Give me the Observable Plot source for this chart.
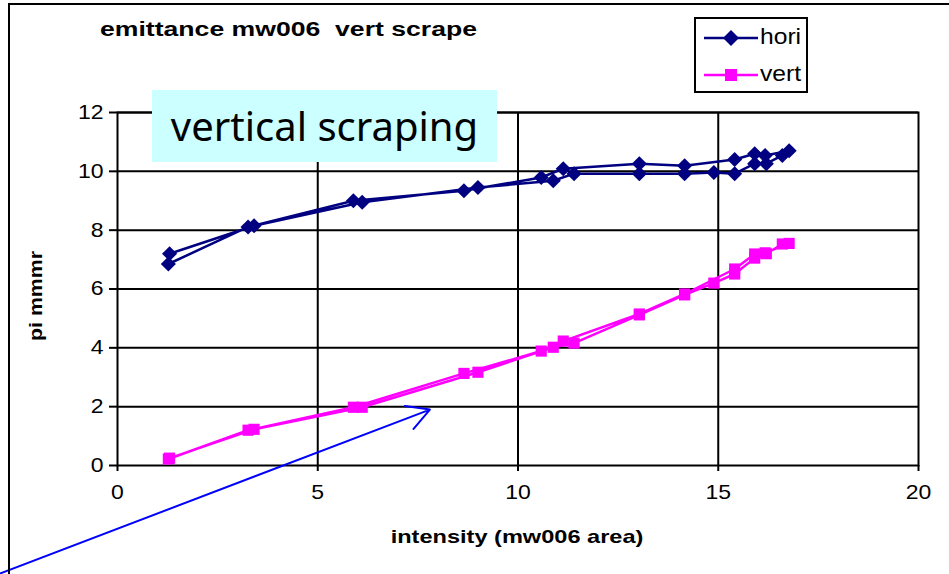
<!DOCTYPE html>
<html>
<head>
<meta charset="utf-8">
<script src="https://cdn.jsdelivr.net/npm/d3@7"></script>
<script src="https://cdn.jsdelivr.net/npm/@observablehq/plot@0.6"></script>
<style>
  html, body { margin: 0; padding: 0; background: #fff; }
  #wrap { position: relative; width: 949px; height: 574px; overflow: hidden; font-family: "Liberation Sans", Arial, sans-serif; }
  #wrap svg.plot { position: absolute; left: 0; top: 0; }
  .abs { position: absolute; white-space: pre; }
</style>
</head>
<body>
<div id="wrap"></div>
<script>
const intensity = [1.27, 3.26, 5.89, 8.65, 10.58, 11.13, 13.03, 14.16, 15.41, 15.91, 16.17, 16.77, 16.60, 16.20, 15.91, 15.41, 14.89, 14.16, 13.03, 11.40, 10.88, 9.00, 6.11, 3.41, 1.30];
const hori      = [6.85, 8.11, 9.00, 9.34, 9.79, 10.09, 10.26, 10.19, 10.40, 10.60, 10.54, 10.70, 10.54, 10.26, 10.26, 9.92, 9.96, 9.92, 9.92, 9.92, 9.68, 9.45, 8.95, 8.15, 7.20];
const vert      = [0.22, 1.20, 1.98, 3.13, 3.89, 4.23, 5.15, 5.83, 6.68, 7.19, 7.23, 7.55, 7.53, 7.20, 7.05, 6.51, 6.20, 5.80, 5.12, 4.16, 4.02, 3.17, 1.98, 1.23, 0.25];
const xTicks = [0, 5, 10, 15, 20];
const yTicks = [0, 2, 4, 6, 8, 10, 12];
const seriesNames = ["hori", "vert"];
const title = "emittance mw006  vert scrape";
const xLabel = "intensity (mw006 area)";
const yLabel = "pi mmmr";
const boxText = "vertical scraping";
// annotation arrow (data coordinates, from start outside the frame to tip)
const arrowX1 = [-2.93], arrowY1 = [-3.67], arrowX2 = [7.8], arrowY2 = [1.9];

const rows = intensity.map((x, i) => ({x, hori: hori[i], vert: vert[i]}));
const arrowData = arrowX1.map((v, i) => ({x1: v, y1: arrowY1[i], x2: arrowX2[i], y2: arrowY2[i]}));

const navy = "#000080", magenta = "#FF00FF";

const chart = Plot.plot({
  width: 949,
  height: 574,
  marginLeft: 117,
  marginRight: 31,
  marginTop: 112,
  marginBottom: 109,
  style: {fontFamily: "Liberation Sans, Arial, sans-serif", fontSize: "20px", color: "#000", background: "transparent", overflow: "visible"},
  x: {domain: [0, 20]},
  y: {domain: [0, 12]},
  marks: [
    Plot.gridX(xTicks.slice(1, -1), {stroke: "#000", strokeOpacity: 1, strokeWidth: 2}),
    Plot.gridY(yTicks.slice(1), {stroke: "#000", strokeOpacity: 1, strokeWidth: 2}),
    Plot.frame({stroke: "#000", strokeWidth: 2}),
    Plot.axisX({ticks: xTicks, tickSize: 6, tickPadding: 13, strokeWidth: 2, label: null, fontSize: 20}),
    Plot.axisY({ticks: yTicks, tickSize: 8, tickPadding: 6, strokeWidth: 2, label: null, fontSize: 20}),
    Plot.line(rows, {x: "x", y: "hori", stroke: navy, strokeWidth: 2.5, curve: "linear"}),
    Plot.dot(rows, {x: "x", y: "hori", symbol: "diamond2", r: 6.8, fill: navy, stroke: "none"}),
    Plot.line(rows, {x: "x", y: "vert", stroke: magenta, strokeWidth: 2.5, curve: "linear"}),
    Plot.dot(rows, {x: "x", y: "vert", symbol: "square", r: 6.3, fill: magenta, stroke: "none"}),
    Plot.arrow(arrowData, {x1: "x1", y1: "y1", x2: "x2", y2: "y2", stroke: "#0000FF", strokeWidth: 2, headLength: 19, headAngle: 58, bend: 0, clip: false})
  ]
});
chart.classList.add("plot");
const wrap = document.getElementById("wrap");
wrap.appendChild(chart);

// stretch tick labels horizontally about their own anchor point (as in the reference rendering)
chart.querySelectorAll('g[aria-label$="tick label"] text').forEach(el => {
  const tr = el.getAttribute("transform");
  if (tr && tr.includes("translate")) el.setAttribute("transform", tr + " scale(1.15,1)");
});

// outer chart-area border (left and top edges visible)
const border = document.createElement("div");
border.className = "abs";
Object.assign(border.style, {left: "8px", top: "3px", width: "1000px", height: "700px", borderLeft: "2px solid #000", borderTop: "2px solid #000", boxSizing: "border-box", pointerEvents: "none"});
wrap.appendChild(border);

function label(text, style) {
  const d = document.createElement("div");
  d.className = "abs";
  d.textContent = text;
  Object.assign(d.style, style);
  wrap.appendChild(d);
  return d;
}

// title
label(title, {left: "100px", top: "18px", fontSize: "20px", fontWeight: "bold", transformOrigin: "0 50%", transform: "scaleX(1.33)"});

// text box
label(boxText, {left: "152px", top: "90px", width: "345px", height: "72px", background: "#CCFFFF", fontFamily: "'Noto Sans', sans-serif", fontSize: "40px", lineHeight: "72px", textAlign: "center"});

// axis labels
label(xLabel, {left: "517px", top: "537px", transform: "translate(-50%, -50%) scaleX(1.24)", fontSize: "19px", fontWeight: "bold"});
label(yLabel, {left: "36px", top: "296px", transform: "translate(-50%, -50%) rotate(-90deg) scaleX(1.12)", fontSize: "19px", fontWeight: "bold"});

// legend
const lg = document.createElement("div");
lg.className = "abs";
Object.assign(lg.style, {left: "694px", top: "17px", width: "114px", height: "76px", border: "2px solid #000", boxSizing: "border-box", background: "#fff"});
const colors = [navy, magenta];
seriesNames.forEach((name, i) => {
  const ns = "http://www.w3.org/2000/svg";
  const s = document.createElementNS(ns, "svg");
  s.setAttribute("width", "56"); s.setAttribute("height", "20");
  Object.assign(s.style, {position: "absolute", left: "8px", top: (9 + i * 37) + "px"});
  const ln = document.createElementNS(ns, "line");
  ln.setAttribute("x1", 0); ln.setAttribute("x2", 54); ln.setAttribute("y1", 10); ln.setAttribute("y2", 10);
  ln.setAttribute("stroke", colors[i]); ln.setAttribute("stroke-width", 2.5);
  s.appendChild(ln);
  const mk = document.createElementNS(ns, "path");
  mk.setAttribute("d", i === 0 ? "M27,2L35,10L27,18L19,10Z" : "M21,4H33V16H21Z");
  mk.setAttribute("fill", colors[i]);
  s.appendChild(mk);
  lg.appendChild(s);
  const tx = document.createElement("div");
  tx.className = "abs";
  tx.textContent = name;
  Object.assign(tx.style, {left: "64px", top: (5 + i * 37) + "px", fontSize: "22px", transformOrigin: "0 50%", transform: "scaleX(1.12)"});
  lg.appendChild(tx);
});
wrap.appendChild(lg);
</script>
</body>
</html>
